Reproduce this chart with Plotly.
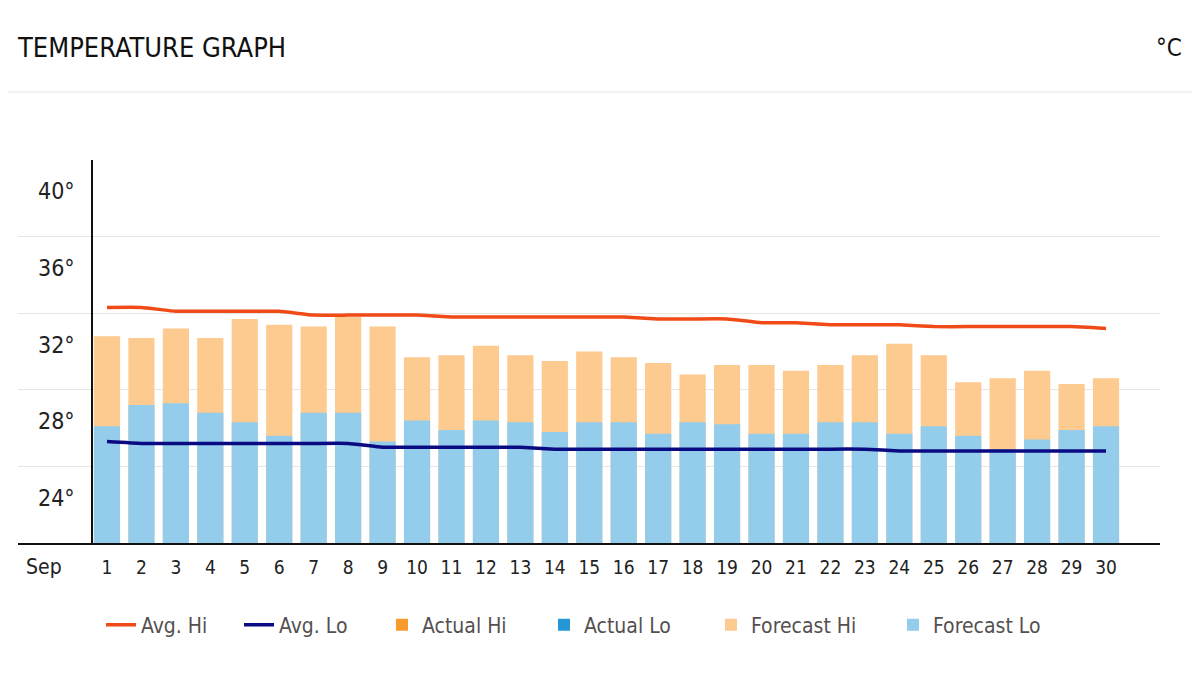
import plotly.graph_objects as go

# ---------------- data ----------------
days = [1, 2, 3, 4, 5, 6, 7, 8, 9, 10, 11, 12, 13, 14, 15,
        16, 17, 18, 19, 20, 21, 22, 23, 24, 25, 26, 27, 28, 29, 30]
day_labels = ["1", "2", "3", "4", "5", "6", "7", "8", "9", "10", "11", "12", "13", "14", "15",
              "16", "17", "18", "19", "20", "21", "22", "23", "24", "25", "26", "27", "28", "29", "30"]
month_label = "Sep"

forecast_hi = [32.8, 32.7, 33.2, 32.7, 33.7, 33.4, 33.3, 33.8, 33.3, 31.7,
               31.8, 32.3, 31.8, 31.5, 32.0, 31.7, 31.4, 30.8, 31.3, 31.3,
               31.0, 31.3, 31.8, 32.4, 31.8, 30.4, 30.6, 31.0, 30.3, 30.6]
forecast_lo = [28.1, 29.2, 29.3, 28.8, 28.3, 27.6, 28.8, 28.8, 27.3, 28.4,
               27.9, 28.4, 28.3, 27.8, 28.3, 28.3, 27.7, 28.3, 28.2, 27.7,
               27.7, 28.3, 28.3, 27.7, 28.1, 27.6, 26.9, 27.4, 27.9, 28.1]
avg_hi = [34.3, 34.3, 34.1, 34.1, 34.1, 34.1, 33.9, 33.9, 33.9, 33.9,
          33.8, 33.8, 33.8, 33.8, 33.8, 33.8, 33.7, 33.7, 33.7, 33.5,
          33.5, 33.4, 33.4, 33.4, 33.3, 33.3, 33.3, 33.3, 33.3, 33.2]
avg_lo = [27.3, 27.2, 27.2, 27.2, 27.2, 27.2, 27.2, 27.2, 27.0, 27.0,
          27.0, 27.0, 27.0, 26.9, 26.9, 26.9, 26.9, 26.9, 26.9, 26.9,
          26.9, 26.9, 26.9, 26.8, 26.8, 26.8, 26.8, 26.8, 26.8, 26.8]
actual_hi = [None] * 30
actual_lo = [None] * 30

y_label_vals = [24, 28, 32, 36, 40]
y_label_text = ["24°", "28°", "32°", "36°", "40°"]
grid_vals = [26, 30, 34, 38, 42]

title_text = "TEMPERATURE GRAPH"
unit_text = "°C"

# ---------------- style ----------------
FONT = "DejaVu Sans Condensed, Liberation Sans Narrow, Roboto, sans-serif"
C_AVG_HI = "#F04B16"
C_AVG_LO = "#0A0A82"
C_ACT_HI = "#F99A2E"
C_ACT_LO = "#2597D5"
C_FC_HI = "#FDCA8F"
C_FC_LO = "#93CDEB"

# the page body has an 8px margin; size the figure so the plot lands where the reference has it
OFF = 8
W, H = 1200 - OFF, 680 - OFF
ML, MR, MT = 18 - OFF, 40, 160 - OFF
MB = H - (543 - OFF)
PW = W - ML - MR
PH = H - MT - MB


def px_x(px):
    """screen x (reference pixels) -> paper x"""
    return (px - OFF - ML) / PW


def px_y(py):
    """screen y (reference pixels) -> paper y"""
    return (H - MB - (py - OFF)) / PH


fig = go.Figure()

fig.add_trace(go.Bar(x=days, y=forecast_hi, name="Forecast Hi", marker_color=C_FC_HI,
                     marker_line_width=0, legend="legend5"))
fig.add_trace(go.Bar(x=days, y=forecast_lo, name="Forecast Lo", marker_color=C_FC_LO,
                     marker_line_width=0, legend="legend6"))
fig.add_trace(go.Bar(x=days, y=actual_hi, name="Actual Hi", marker_color=C_ACT_HI,
                     marker_line_width=0, legend="legend3"))
fig.add_trace(go.Bar(x=days, y=actual_lo, name="Actual Lo", marker_color=C_ACT_LO,
                     marker_line_width=0, legend="legend4"))
fig.add_trace(go.Scatter(x=days, y=avg_hi, name="Avg. Hi", mode="lines",
                         line=dict(color=C_AVG_HI, width=3.5, shape="spline", smoothing=0.3),
                         legend="legend"))
fig.add_trace(go.Scatter(x=days, y=avg_lo, name="Avg. Lo", mode="lines",
                         line=dict(color=C_AVG_LO, width=3.5, shape="spline", smoothing=0.3),
                         legend="legend2"))

leg_y = px_y(625)
leg_font = dict(family=FONT, size=21, color="#555050")
leg_x_px = [101, 239, 382, 544, 711, 893]
legends = {}
for i, xp in enumerate(leg_x_px):
    key = "legend" if i == 0 else "legend%d" % (i + 1)
    legends[key] = dict(x=px_x(xp), y=leg_y, xanchor="left", yanchor="middle",
                        orientation="h", font=leg_font, bgcolor="rgba(0,0,0,0)",
                        borderwidth=0, itemclick=False, itemdoubleclick=False)

annotations = []
for v, t in zip(y_label_vals, y_label_text):
    annotations.append(dict(x=px_x(77), y=v, xref="paper", yref="y", text=t, showarrow=False,
                            xanchor="right", yanchor="middle", yshift=7,
                            font=dict(family=FONT, size=23, color="#222222")))
annotations.append(dict(x=px_x(24), y=px_y(567), xref="paper", yref="paper", text=month_label,
                        showarrow=False, xanchor="left", yanchor="middle",
                        font=dict(family=FONT, size=21, color="#222222")))
annotations.append(dict(x=px_x(1184), y=px_y(48), xref="paper", yref="paper", text=unit_text,
                        showarrow=False, xanchor="right", yanchor="middle",
                        font=dict(family=FONT, size=24, color="#111111")))

shapes = [
    dict(type="line", xref="paper", yref="paper", x0=px_x(0), x1=px_x(1200), y0=px_y(92), y1=px_y(92),
         line=dict(color="#E6E6E6", width=1)),
    dict(type="line", xref="paper", yref="paper", x0=px_x(92), x1=px_x(92), y0=0, y1=1,
         line=dict(color="#111111", width=2)),
]

fig.update_layout(
    width=W, height=H,
    margin=dict(l=ML, r=MR, t=MT, b=MB, pad=0),
    paper_bgcolor="white", plot_bgcolor="white",
    barmode="overlay", bargap=0.24,
    font=dict(family=FONT, color="#222222"),
    showlegend=True,
    title=dict(text=title_text, x=(18 - OFF) / W, xref="container", xanchor="left",
               y=1 - (48 - OFF) / H, yref="container", yanchor="middle",
               font=dict(family=FONT, size=27, color="#111111")),
    xaxis=dict(range=[-1.583, 31.567], tickmode="array", tickvals=days, ticktext=day_labels,
               showgrid=False, zeroline=False, showline=True, linecolor="#111111", linewidth=2,
               ticks="", ticklabelstandoff=6, tickfont=dict(family=FONT, size=19, color="#222222"),
               fixedrange=True),
    yaxis=dict(range=[22, 42], tickmode="array", tickvals=grid_vals, showticklabels=False,
               showgrid=True, gridcolor="#E6E6E6", gridwidth=1, zeroline=False, showline=False,
               ticks="", fixedrange=True),
    annotations=annotations,
    shapes=shapes,
    hovermode=False,
    **legends,
)

fig.write_html("out.html")
